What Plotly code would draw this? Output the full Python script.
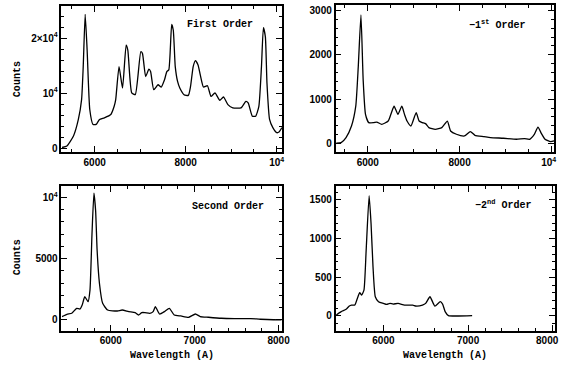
import plotly.graph_objects as go

# ---------------- data ----------------
first_wl = [5284, 5391, 5535, 5642, 5713, 5749, 5792, 5835, 5893, 5964, 6034, 6107, 6214, 6356,
            6429, 6463, 6536, 6613, 6692, 6729, 6815, 6893, 7014, 7050, 7121, 7192, 7229, 7299,
            7393, 7464, 7535, 7586, 7629, 7693, 7728, 7771, 7822, 7871, 7964, 8058, 8107, 8165,
            8214, 8272, 8321, 8392, 8478, 8557, 8643, 8750, 8830, 8928, 9035, 9215, 9323, 9373,
            9464, 9537, 9608, 9665, 9708, 9751, 9786, 9843, 9915, 10000, 10051, 10115]
first_counts = [130, 415, 2220, 5225, 8830, 14830, 24320, 17840, 7030, 4320, 4320, 5225, 5530, 6130,
                7620, 8830, 14830, 10940, 18740, 17840, 10040, 9730, 17530, 17240, 13030, 14360, 13930, 10630,
                11530, 11120, 12430, 13930, 14230, 22520, 21440, 14830, 12130, 10940, 9730, 9600, 11230, 14830,
                15910, 15140, 13330, 11120, 11350, 9420, 10040, 8700, 9310, 7930, 7330, 7330, 8520, 8230,
                5820, 5820, 7620, 14830, 21930, 20240, 11840, 5225, 3730, 2830, 2940, 3730]

m1_wl = [5315, 5421, 5527, 5646, 5739, 5794, 5852, 5900, 5951, 6021, 6127, 6197, 6303, 6445, 6515,
         6573, 6657, 6742, 6800, 6855, 6940, 7054, 7118, 7188, 7258, 7330, 7470, 7612, 7733, 7803,
         7930, 8106, 8233, 8333, 8530, 8672, 8955, 9238, 9414, 9520, 9626, 9705, 9769, 9860, 9981, 10057]
m1_counts = [7, 22, 135, 395, 843, 1740, 2900, 1442, 657, 471, 471, 484, 433, 507, 695,
             843, 657, 843, 657, 507, 395, 695, 507, 471, 448, 359, 321, 359, 507, 283,
             209, 170, 269, 186, 157, 135, 119, 96, 112, 96, 209, 372, 247, 96, 45, 58]

second_wl = [5419, 5477, 5535, 5593, 5633, 5659, 5690, 5729, 5752, 5776, 5799, 5819, 5837, 5865,
             5903, 5962, 6078, 6136, 6214, 6291, 6330, 6369, 6407, 6465, 6505, 6531, 6581, 6640,
             6698, 6756, 6834, 6930, 7008, 7066, 7163, 7319, 7473, 7667, 7784, 8035]
second_counts = [276, 462, 543, 948, 891, 1216, 1896, 1491, 2431, 7026, 10324, 8914, 5673, 2974,
                 1353, 810, 729, 810, 681, 600, 405, 600, 600, 543, 681, 1086, 486, 681,
                 948, 405, 324, 219, 486, 276, 219, 138, 113, 113, 57, 0]

m2_wl = [5444, 5501, 5559, 5597, 5623, 5662, 5692, 5720, 5743, 5770, 5796, 5831, 5854, 5877, 5904,
         5942, 6000, 6038, 6077, 6115, 6173, 6250, 6346, 6384, 6461, 6499, 6550, 6607, 6672, 6699,
         6729, 6768, 6884, 7048]
m2_counts = [13, 57, 86, 129, 141, 141, 227, 301, 270, 334, 848, 1555, 1191, 635, 249,
             185, 163, 150, 163, 154, 163, 141, 141, 129, 141, 163, 249, 129, 185, 154,
             57, 5, 0, 5]

panel_titles = ["First Order", "\u22121<sup>st</sup> Order", "Second Order", "\u22122<sup>nd</sup> Order"]
y_title = "Counts"
x_title = "Wavelength (A)"

top_x_ticks = [6000, 8000, 10000]
top_x_labels = ["6000", "8000", "10<sup>4</sup>"]
bot_x_ticks = [6000, 7000, 8000]
bot_x_labels = ["6000", "7000", "8000"]
first_y_ticks = [0, 10000, 20000]
first_y_labels = ["0", "10<sup>4</sup>", "2\u00d710<sup>4</sup>"]
m1_y_ticks = [0, 1000, 2000, 3000]
second_y_ticks = [0, 5000, 10000]
second_y_labels = ["0", "5000", "10<sup>4</sup>"]
m2_y_ticks = [0, 500, 1000, 1500]

# ---------------- figure ----------------
W, H = 573, 369
fig = go.Figure()

def px_dom(a, b):
    return [a / W, b / W]

def py_dom(top, bottom):
    return [1 - bottom / H, 1 - top / H]

NB = "\u00a0"
panels = [
    dict(x=first_wl, y=first_counts, xd=px_dom(63, 289), yd=py_dom(6, 153),
         xr=[5271, 10115], yr=[-720, 25850], xt=top_x_ticks, xl=top_x_labels, xm=500,
         yt=first_y_ticks, yl=first_y_labels, ym=2000),
    dict(x=m1_wl, y=m1_counts, xd=px_dom(344, 568), yd=py_dom(5, 153),
         xr=[5300, 10057], yr=[-195, 3125], xt=top_x_ticks,
         xl=top_x_labels[:2] + [top_x_labels[2] + NB * 2], xm=500,
         yt=m1_y_ticks, yl=[str(v) for v in m1_y_ticks], ym=200),
    dict(x=second_wl, y=second_counts, xd=px_dom(63, 289), yd=py_dom(187, 332.5),
         xr=[5412, 8040], yr=[-875, 10915], xt=bot_x_ticks, xl=bot_x_labels, xm=200,
         yt=second_y_ticks, yl=second_y_labels, ym=1000),
    dict(x=m2_wl, y=m2_counts, xd=px_dom(344, 569), yd=py_dom(187, 332.5),
         xr=[5435, 8028], yr=[-190, 1680], xt=bot_x_ticks,
         xl=bot_x_labels[:2] + [bot_x_labels[2] + NB * 4], xm=200,
         yt=m2_y_ticks, yl=[str(v) for v in m2_y_ticks], ym=100),
]

tickfont = dict(family="Liberation Sans", size=10, color="black", weight="bold")
layout_axes = {}
for i, p in enumerate(panels):
    n = "" if i == 0 else str(i + 1)
    fig.add_trace(go.Scatter(x=p["x"], y=p["y"], mode="lines",
                             line=dict(color="black", width=1.3, shape="spline", smoothing=0.5),
                             xaxis="x" + n, yaxis="y" + n, showlegend=False, hoverinfo="skip"))
    common = dict(showline=True, linecolor="black", linewidth=1.6, mirror="ticks",
                  ticks="inside", ticklen=6, tickwidth=1.2, tickcolor="black",
                  showgrid=False, zeroline=False, tickfont=tickfont,
                  ticklabeloverflow="allow")
    layout_axes["xaxis" + n] = dict(domain=p["xd"], range=p["xr"], anchor="y" + n,
                                    tickmode="array", tickvals=p["xt"], ticktext=p["xl"],
                                    minor=dict(ticks="inside", ticklen=3, tickwidth=1, tickcolor="black",
                                               dtick=p["xm"], tick0=0, showgrid=False),
                                    **common)
    layout_axes["yaxis" + n] = dict(domain=p["yd"], range=p["yr"], anchor="x" + n,
                                    tickmode="array", tickvals=p["yt"], ticktext=p["yl"],
                                    minor=dict(ticks="inside", ticklen=3, tickwidth=1, tickcolor="black",
                                               dtick=p["ym"], tick0=0, showgrid=False),
                                    **common)

labfont = dict(family="Liberation Mono", size=10, color="black", weight="bold")
annotations = [
    dict(text=panel_titles[0], x=225 / W, y=1 - 25 / H),
    dict(text=panel_titles[1], x=509 / W, y=1 - 25 / H),
    dict(text=panel_titles[2], x=234 / W, y=1 - 207.5 / H),
    dict(text=panel_titles[3], x=516 / W, y=1 - 205.5 / H),
    dict(text=y_title, x=18 / W, y=1 - 80 / H, textangle=-90),
    dict(text=y_title, x=18 / W, y=1 - 259 / H, textangle=-90),
    dict(text=x_title, x=176 / W, y=1 - 357 / H),
    dict(text=x_title, x=456 / W, y=1 - 357 / H),
]
for a in annotations:
    a.update(xref="paper", yref="paper", showarrow=False, font=labfont,
             xanchor="center", yanchor="middle")

fig.update_layout(width=W, height=H, margin=dict(l=0, r=0, t=0, b=0),
                  paper_bgcolor="white", plot_bgcolor="white",
                  annotations=annotations, **layout_axes)

fig.write_html("out.html", config={"displayModeBar": False},
               post_script="document.body.style.margin='0';document.body.style.padding='0';")
